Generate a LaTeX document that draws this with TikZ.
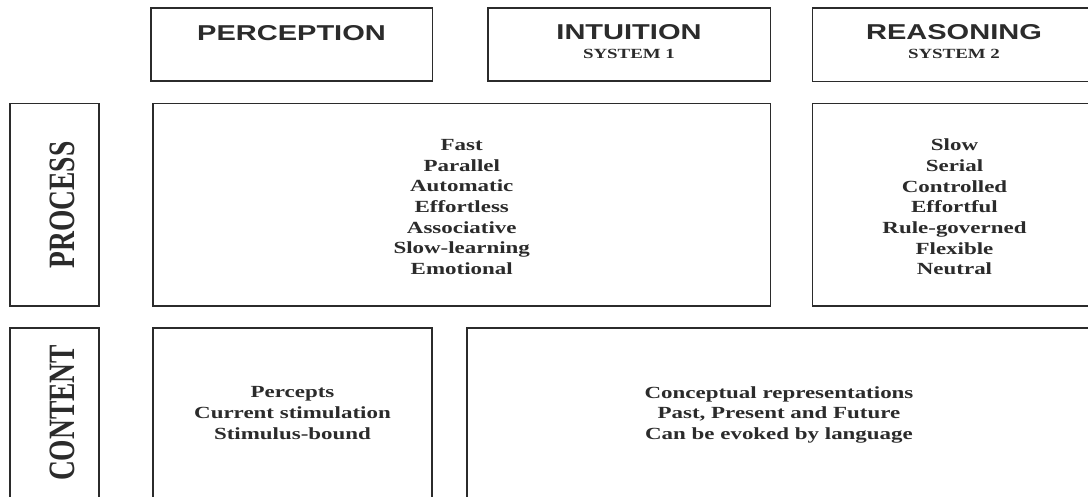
\documentclass[tikz,border=0pt]{standalone}
\usepackage{fontspec}
\setmainfont{Liberation Serif}
\newfontfamily\hdrfont[FakeStretch=1.35]{Liberation Sans}
\newfontfamily\txtfont[FakeStretch=1.35]{Liberation Serif}
\newfontfamily\sidefont{Liberation Serif}
\definecolor{ink}{gray}{0.17}
\begin{document}
\begin{tikzpicture}[x=1pt,y=-1pt,
  box/.style={draw=ink, line width=1.8pt, rectangle, inner sep=0pt, outer sep=0pt},
  headtext/.style={text=ink, inner sep=0pt, anchor=base, font=\hdrfont\bfseries\fontsize{21.5}{24}\selectfont},
  systext/.style={text=ink, inner sep=0pt, anchor=base, font=\txtfont\bfseries\fontsize{14}{16}\selectfont},
  listtext/.style={text=ink, inner sep=0pt, align=center, font=\txtfont\bfseries\fontsize{17}{20.7}\selectfont},
  sidetext/.style={text=ink, inner sep=0pt, rotate=90}
]
\useasboundingbox (0,0) rectangle (1088,497);
\fill[white] (0,0) rectangle (1088,497);
\clip (0,0) rectangle (1088,497);

% header boxes
\node[box, minimum width=281.5pt, minimum height=73pt] (hPer) at (291.75,44.5) {};
\node[box, minimum width=282.5pt, minimum height=73pt] (hInt) at (629.25,44.5) {};
\node[box, minimum width=283.5pt, minimum height=73.5pt] (hRea) at (954.25,44.75) {};

% process row
\node[box, minimum width=89pt, minimum height=202.5pt] (lProc) at (54.5,204.75) {};
\node[box, minimum width=617.5pt, minimum height=202.5pt] (bProcA) at (461.75,204.75) {};
\node[box, minimum width=283.5pt, minimum height=202.5pt] (bProcB) at (954.25,204.75) {};

% content row
\node[box, minimum width=89pt, minimum height=177pt] (lCont) at (54.5,416.5) {};
\node[box, minimum width=279pt, minimum height=177pt] (bContA) at (292.5,416.5) {};
\node[box, minimum width=629pt, minimum height=177pt] (bContB) at (781.5,416.5) {};

% header texts
\node[headtext] (tPer) at (291.5,40.5) {PERCEPTION};
\node[headtext] (tInt) at (629,39.5) {INTUITION};
\node[systext] (tSys1) at (629,58.3) {SYSTEM 1};
\node[headtext] (tRea) at (954,39.5) {REASONING};
\node[systext] (tSys2) at (954,58.3) {SYSTEM 2};

% side labels
\node[sidetext] (tProc) at (62,205) {\scalebox{1}[1.35]{\sidefont\bfseries\fontsize{27.5}{30}\selectfont PROCESS}};
\node[sidetext] (tCont) at (62,413) {\scalebox{1}[1.35]{\sidefont\bfseries\fontsize{27.5}{30}\selectfont CONTENT}};

% lists
\node[listtext] (tS1) at (461.75,207) {Fast\\Parallel\\Automatic\\Effortless\\Associative\\Slow-learning\\Emotional};
\node[listtext] (tS2) at (954.5,207) {Slow\\Serial\\Controlled\\Effortful\\Rule-governed\\Flexible\\Neutral};
\node[listtext] (tCA) at (292.5,413) {Percepts\\Current stimulation\\Stimulus-bound};
\node[listtext] (tCB) at (779,414.8) {Conceptual representations\\Past, Present and Future\\Can be evoked by language};
\end{tikzpicture}
\end{document}
